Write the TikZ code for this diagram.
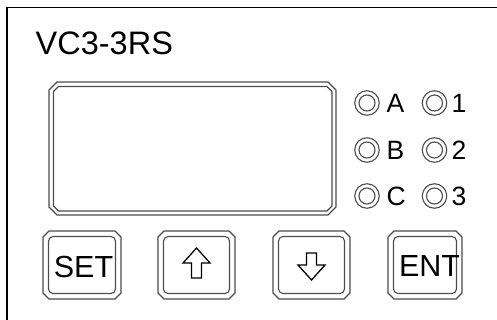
\documentclass[tikz,border=0pt]{standalone}
\usepackage{fontspec}
\setmainfont{Liberation Sans}
\newcommand{\chamfbox}[2]{%
  \draw[edge] ([xshift=#2]#1.north west) -- ([xshift=-#2]#1.north east)
    -- ([yshift=-#2]#1.north east) -- ([yshift=#2]#1.south east)
    -- ([xshift=-#2]#1.south east) -- ([xshift=#2]#1.south west)
    -- ([yshift=#2]#1.south west) -- ([yshift=-#2]#1.north west) -- cycle;}
\begin{document}
\begin{tikzpicture}[x=1pt,y=-1pt,
  edge/.style={draw=black!70, line width=1.1pt},
  box/.style={rectangle, inner sep=0pt, outer sep=0pt},
  btnin/.style={edge, rectangle, rounded corners=4.5pt, inner sep=0pt, outer sep=0pt},
  ledout/.style={edge, circle, minimum size=24.5pt, inner sep=0pt},
  ledin/.style={edge, circle, minimum size=16pt, inner sep=0pt},
  btntext/.style={inner sep=0pt, font=\fontsize{30.5}{34}\selectfont},
  ledtext/.style={inner sep=0pt, anchor=base west, font=\fontsize{26.5}{29}\selectfont},
  arrowshape/.style={draw=black, line width=1.3pt, line join=miter}
]
\useasboundingbox (0,0) rectangle (497,320);
% frame
\coordinate (fbl) at (7,320);
\coordinate (ftl) at (7,7.5);
\coordinate (ftr) at (497,7.5);
\draw[black, line width=1.3pt] (fbl) -- (ftl) -- (ftr);
% title
\node[inner sep=0pt, anchor=base west, font=\fontsize{32.5}{37}\selectfont] (title) at (35.5,54.5) {VC3-3RS};
% display
\node[box, minimum width=287pt, minimum height=133pt] (dispout) at (192.5,148.5) {};
\node[box, minimum width=278.5pt, minimum height=124.5pt] (dispin) at (192.75,148.75) {};
\chamfbox{dispout}{8pt}
\chamfbox{dispin}{5pt}
% LEDs
\foreach \n/\r/\yy in {A/1/103, B/2/150, C/3/196}{
  \node[ledout] (led\n) at (367,\yy) {};
  \node[ledin] (led\n in) at (367,\yy) {};
  \node[ledtext] (lbl\n) at (386.5,\yy+9.5) {\n};
  \node[ledout] (led\r) at (434.5,\yy) {};
  \node[ledin] (led\r in) at (434.5,\yy) {};
  \node[ledtext] (lbl\r) at (451.5,\yy+9.5) {\r};
}
% buttons
\node[box, minimum width=78pt, minimum height=68pt] (set) at (82,265) {};
\chamfbox{set}{6pt}
\node[btnin, minimum width=67pt, minimum height=57pt] (setin) at (82,265) {};
\node[btntext, anchor=base] (settxt) at (83.5,277) {SET};

\node[box, minimum width=77pt, minimum height=68pt] (up) at (196.5,265) {};
\chamfbox{up}{6pt}
\node[btnin, minimum width=66pt, minimum height=57pt] (upin) at (196.5,265) {};
\coordinate (uptip) at (196.5,248);
\draw[arrowshape] (uptip) -- ++(13.5,15) -- ++(-8.5,0) -- ++(0,15) -- ++(-10,0) -- ++(0,-15) -- ++(-8.5,0) -- cycle;

\node[box, minimum width=77pt, minimum height=68pt] (down) at (311.5,265) {};
\chamfbox{down}{6pt}
\node[btnin, minimum width=66pt, minimum height=57pt] (downin) at (311.5,265) {};
\coordinate (downtip) at (311.5,280);
\draw[arrowshape] (downtip) -- ++(13.5,-15) -- ++(-8.5,0) -- ++(0,-12) -- ++(-10,0) -- ++(0,12) -- ++(-8.5,0) -- cycle;

\node[box, minimum width=74pt, minimum height=68pt] (ent) at (425,265) {};
\chamfbox{ent}{6pt}
\node[btnin, minimum width=63pt, minimum height=57pt] (entin) at (425,265) {};
\node[btntext, anchor=base] (enttxt) at (429.5,276) {ENT};
\end{tikzpicture}
\end{document}
